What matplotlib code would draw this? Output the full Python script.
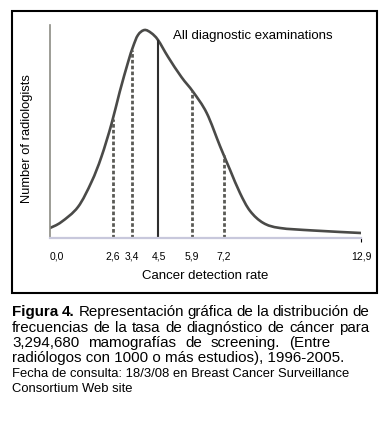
import numpy as np
import matplotlib
matplotlib.use("Agg")
import matplotlib.pyplot as plt
from matplotlib.path import Path
from matplotlib.patches import PathPatch, Rectangle

plt.rcParams['font.family'] = ['Liberation Sans', 'DejaVu Sans']

# ---- data ----
rate = [0, 0.47, 1.16, 1.72, 2.13, 2.55, 2.89, 3.24, 3.44, 3.65, 3.92, 4.2,
        4.48, 4.9, 5.45, 5.94, 6.5, 7.05, 7.47, 7.88, 8.3, 8.85, 9.54, 10.92, 12.9]
count = [10, 16, 31, 56, 81, 114, 146, 176, 191, 203, 208, 205,
         198, 181, 161, 146, 125, 92, 68, 45, 27, 15, 10, 7.5, 5]
dashed_marks = [2.6, 3.4, 5.9, 7.2]
solid_mark = 4.5
tick_values = [0.0, 2.6, 3.4, 4.5, 5.9, 7.2, 12.9]
tick_labels = ["0,0", "2,6", "3,4", "4,5", "5,9", "7,2", "12,9"]

W, H = 389, 425
fig = plt.figure(figsize=(W / 100, H / 100), dpi=100)

def fx(px):
    return px / W

def fy(py):
    return 1 - py / H

# frame around chart
fig.patches.append(Rectangle((fx(12), fy(293)), fx(377) - fx(12), fy(11) - fy(293),
                             transform=fig.transFigure, fill=False,
                             edgecolor='black', linewidth=1.5))

ax = fig.add_axes([fx(50), fy(238), fx(361) - fx(50), fy(25) - fy(238)])
ax.set_xlim(0, 12.9)
ax.set_ylim(0, 213)

# smooth curve through read points (Catmull-Rom -> cubic Bezier)
xs = np.array(rate, float)
ys = np.array(count, float)
verts = [(xs[0], ys[0])]
codes = [Path.MOVETO]
n = len(xs)
for i in range(n - 1):
    p0 = np.array([xs[max(i - 1, 0)], ys[max(i - 1, 0)]])
    p1 = np.array([xs[i], ys[i]])
    p2 = np.array([xs[i + 1], ys[i + 1]])
    p3 = np.array([xs[min(i + 2, n - 1)], ys[min(i + 2, n - 1)]])
    c1 = p1 + (p2 - p0) / 6
    c2 = p2 - (p3 - p1) / 6
    verts += [tuple(c1), tuple(c2), tuple(p2)]
    codes += [Path.CURVE4] * 3
ax.add_patch(PathPatch(Path(verts, codes), fill=False, edgecolor='#4a4a48',
                       linewidth=1.9, capstyle='round'))

# vertical markers
for m in dashed_marks:
    h = np.interp(m, rate, count)
    ax.plot([m, m], [0, h], color='#5a5a55', linewidth=2.0,
            linestyle=(0, (1.3, 0.8)), solid_capstyle='butt')
h = np.interp(solid_mark, rate, count)
ax.plot([solid_mark, solid_mark], [0, h], color='#2e2e2e', linewidth=1.5)

# spines
for s in ['top', 'right']:
    ax.spines[s].set_visible(False)
ax.spines['left'].set_color('#8c8c84')
ax.spines['left'].set_linewidth(1.2)
ax.spines['bottom'].set_color('#c8c8dc')
ax.spines['bottom'].set_linewidth(1.6)

ax.set_yticks([])
ax.set_xticks(tick_values)
ax.set_xticklabels(tick_labels, fontsize=7.5)
ax.tick_params(axis='x', length=0, pad=10)
last = ax.xaxis.get_major_ticks()[-1]
last.tick1line.set_markersize(3)
last.tick1line.set_color('#555555')
ax.xaxis.get_major_ticks()[0].label1.set_horizontalalignment('left')

ax.set_xlabel("Cancer detection rate", fontsize=9.5, labelpad=6)
ax.set_ylabel("Number of radiologists", fontsize=9.3)
ax.yaxis.set_label_coords(-(50 - 33) / (361 - 50), (238 - 139) / (238 - 25))

fig.text(fx(173), fy(36), "All diagnostic examinations", fontsize=9.5,
         ha='left', va='center')

# caption
renderer = fig.canvas.get_renderer()

def justified(words_line, y, x0, x1, size, first_bold=0):
    objs = []
    for k, w in enumerate(words_line):
        objs.append(fig.text(0, fy(y), w, fontsize=size, ha='left', va='center',
                             fontweight='bold' if k < first_bold else 'normal'))
    widths = [o.get_window_extent(renderer).width for o in objs]
    gap = (x1 - x0 - sum(widths)) / (len(objs) - 1)
    gap = max(gap, 3.0)
    x = x0
    for o, w in zip(objs, widths):
        o.set_x(fx(x))
        x += w + gap

cs = 10.9
justified("Figura 4. Representación gráfica de la distribución de".split(), 312, 12, 369, cs, first_bold=2)
justified("frecuencias de la tasa de diagnóstico de cáncer para".split(), 328, 12, 369, cs)
justified("3,294,680 mamografías de screening. (Entre".split(), 343, 12, 330, cs)
fig.text(fx(12), fy(358), "radiólogos con 1000 o más estudios), 1996-2005.", fontsize=cs,
         ha='left', va='center')
fig.text(fx(12), fy(374), "Fecha de consulta: 18/3/08 en Breast Cancer Surveillance", fontsize=9.4,
         ha='left', va='center')
fig.text(fx(12), fy(389), "Consortium Web site", fontsize=9.4, ha='left', va='center')

fig.savefig("out.png", dpi=100)
